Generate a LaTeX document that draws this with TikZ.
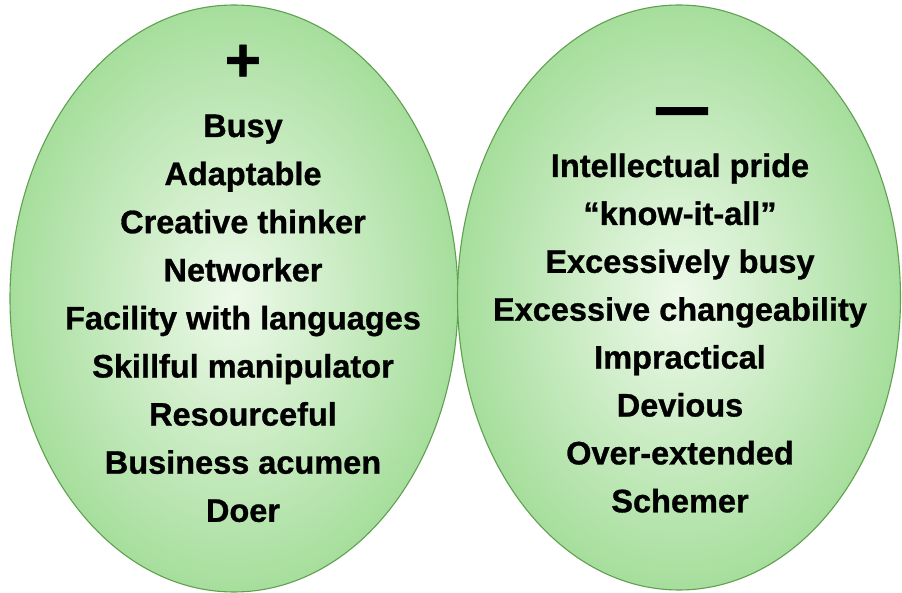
\documentclass[tikz,border=0pt]{standalone}
\usepackage{fontspec}
\setmainfont{Liberation Sans}
\newfontfamily\heavy[FakeBold=0.9]{Liberation Sans Bold}
\newfontfamily\dejab[FakeBold=1.2]{DejaVu Sans Bold}
\usetikzlibrary{shapes.geometric}
\definecolor{ellin}{RGB}{238,249,234}
\definecolor{ellout}{RGB}{166,222,156}
\definecolor{ellborder}{RGB}{96,160,80}
\tikzset{
  oval/.style={ellipse, inner sep=0pt, draw=ellborder, line width=1.1pt,
    inner color=ellin, outer color=ellout},
  item/.style={anchor=base, inner sep=0pt, font=\fontsize{32.5}{39}\heavy, text=black},
  sign/.style={inner sep=0pt, text=black}
}
\begin{document}
\begin{tikzpicture}[x=1pt,y=-1pt]
\useasboundingbox (0,0) rectangle (902,593);
\node[oval, minimum width=448pt, minimum height=587pt] (pos) at (234,298.5) {};
\node[oval, minimum width=443pt, minimum height=585pt] (neg) at (679,297.5) {};
\node[sign, font=\fontsize{62}{62}\heavy] (plus) at (243,63) {+};
\node[sign, font=\fontsize{58}{58}\dejab, anchor=base] (minus) at (682,127) {—};
\foreach \t [count=\i] in {Busy,Adaptable,Creative thinker,Networker,Facility with languages,Skillful manipulator,Resourceful,Business acumen,Doer}
  \node[item] (p\i) at (243,{137+48.1*(\i-1)}) {\t};
\foreach \t [count=\i] in {Intellectual pride,“know-it-all”,Excessively busy,Excessive changeability,Impractical,Devious,Over-extended,Schemer}
  \node[item] (n\i) at (680,{177+47.9*(\i-1)}) {\t};
\end{tikzpicture}
\end{document}
